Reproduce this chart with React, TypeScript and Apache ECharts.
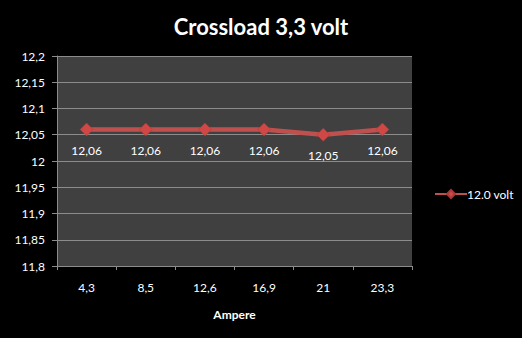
import React, { useEffect, useRef } from "react";
import * as echarts from "echarts";

const categories = ["4,3", "8,5", "12,6", "16,9", "21", "23,3"];
const values = [12.06, 12.06, 12.06, 12.06, 12.05, 12.06];
const seriesName = "12.0 volt";
const titleText = "Crossload 3,3 volt";
const xAxisName = "Ampere";

const fmt = (v: number) => String(v).replace(".", ",");

export default function App() {
  const ref = useRef<HTMLDivElement>(null);
  useEffect(() => {
    if (!ref.current) return;
    const chart = echarts.init(ref.current, null, { renderer: "svg" });
    const font = "Lato, 'Open Sans', sans-serif";
    chart.setOption({
      animation: false,
      backgroundColor: "#000000",
      title: {
        text: titleText,
        left: "center",
        top: 10,
        textStyle: { color: "#ffffff", fontSize: 22, fontWeight: "bold", fontFamily: font },
      },
      legend: {
        orient: "vertical",
        left: 429,
        top: 183,
        itemWidth: 32,
        itemHeight: 10,
        itemGap: 0,
        textStyle: { color: "#ffffff", fontSize: 12, fontFamily: font, padding: [0, 0, 0, -5] },
        data: [{ name: seriesName }],
      },
      grid: {
        left: 57,
        right: 110,
        top: 56,
        bottom: 72,
        show: true,
        backgroundColor: "#404040",
        borderWidth: 0,
      },
      xAxis: {
        type: "category",
        data: categories,
        name: xAxisName,
        nameLocation: "middle",
        nameGap: 42,
        nameTextStyle: { color: "#ffffff", fontSize: 12, fontWeight: "bold", fontFamily: font },
        axisLine: { show: true, lineStyle: { color: "#8c8c8c", width: 1 } },
        axisTick: { show: true, length: 4, lineStyle: { color: "#8c8c8c" } },
        axisLabel: { color: "#ffffff", fontSize: 12, fontFamily: font, margin: 15 },
        splitLine: { show: false },
      },
      yAxis: {
        type: "value",
        min: 11.8,
        max: 12.2,
        interval: 0.05,
        axisLine: { show: true, lineStyle: { color: "#8c8c8c", width: 1 } },
        axisTick: { show: true, length: 5, lineStyle: { color: "#8c8c8c" } },
        axisLabel: {
          color: "#ffffff",
          fontSize: 12,
          fontFamily: font,
          margin: 12,
          formatter: (v: number) => fmt(Math.round(v * 100) / 100),
        },
        splitLine: { show: true, lineStyle: { color: "#8c8c8c", width: 1 } },
      },
      series: [
        {
          name: seriesName,
          type: "line",
          data: values,
          symbol: "diamond",
          symbolSize: 13,
          itemStyle: { color: "#d04845", borderColor: "#a83a38", borderWidth: 0.5 },
          lineStyle: { color: "#c0504d", width: 4.5 },
          label: {
            show: true,
            position: "bottom",
            distance: 8,
            color: "#ffffff",
            fontSize: 12,
            fontFamily: font,
            formatter: (p: any) => fmt(p.value),
          },
        },
      ],
    });
    return () => chart.dispose();
  }, []);
  return <div ref={ref} style={{ width: 522, height: 338, position: "absolute", left: 0, top: 0 }} />;
}
